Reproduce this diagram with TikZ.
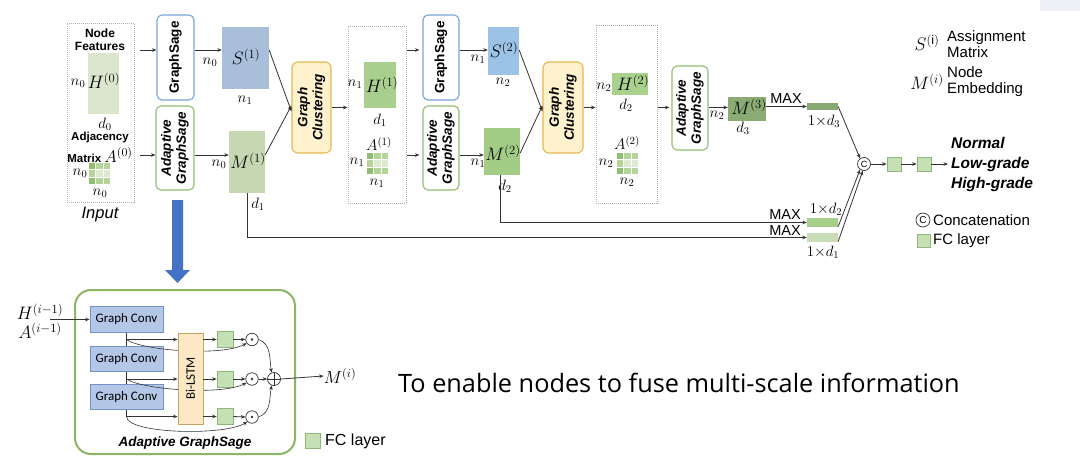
\RequirePackage{fix-cm}
\documentclass[tikz,border=0pt]{standalone}
\usepackage{fontspec}
\setmainfont{Liberation Sans}
\newfontfamily\osans{Open Sans}
\newfontfamily\carl{Carlito}
\usetikzlibrary{arrows.meta,calc}
\definecolor{gsblue}{HTML}{78A5D8}
\definecolor{agsgreen}{HTML}{8FBF73}
\definecolor{sfillA}{HTML}{A8BEDA}
\definecolor{sfillB}{HTML}{9CC2E5}
\definecolor{hzfill}{HTML}{DCE6CD}
\definecolor{mofill}{HTML}{C6D8B1}
\definecolor{hofill}{HTML}{A9CF8E}
\definecolor{mtfill}{HTML}{A3CD87}
\definecolor{htfill}{HTML}{A9D18E}
\definecolor{mthfill}{HTML}{8AAB74}
\definecolor{gcfill}{HTML}{FFF2CC}
\definecolor{gcborder}{HTML}{E3B84F}
\definecolor{barC}{HTML}{87A873}
\definecolor{barB}{HTML}{A5CF8B}
\definecolor{barA}{HTML}{C8DDB8}
\definecolor{convfill}{HTML}{B4C7E7}
\definecolor{convborder}{HTML}{7393C4}
\definecolor{lstmfill}{HTML}{FCE8C4}
\definecolor{lstmborder}{HTML}{C8A366}
\definecolor{fcfill}{HTML}{C5E0B4}
\definecolor{fcborder}{HTML}{8FB97A}
\definecolor{outgreen}{HTML}{8CB564}
\definecolor{bigblue}{HTML}{4472C4}
\definecolor{lncol}{HTML}{333333}
\definecolor{mD}{HTML}{8FBF6F}
\definecolor{mM}{HTML}{B3D59A}
\definecolor{mL}{HTML}{DCEBD0}
\definecolor{faint}{HTML}{EEF0F8}
\newcommand\adjgrid[2]{%
  \foreach \i/\j/\c in {0/0/mD,1/0/mM,2/0/mM,0/1/mM,1/1/mL,2/1/mL,0/2/mD,1/2/mM,2/2/mM}{
    \filldraw[fill=\c, draw=white, line width=0.6pt] ({#1+\i*7.5},{#2+\j*7.5}) rectangle ++(7.5,7.5);}%
}
\tikzset{
  ml/.style={inner sep=0, font=\fontsize{15}{15}\selectfont},
  mb/.style={inner sep=0, font=\fontsize{18}{18}\selectfont},
  tl/.style={inner sep=0, font=\fontsize{12}{13}\selectfont\bfseries, align=center},
  rbox/.style={draw, rounded corners=5pt, line width=1.1pt, fill=white, inner sep=0},
  gsbox/.style={rbox, draw=gsblue},
  agsbox/.style={rbox, draw=agsgreen},
  gcbox/.style={draw=gcborder, fill=gcfill, rounded corners=6pt, line width=1.1pt, inner sep=0},
  dotbox/.style={draw=gray!60, densely dotted, line width=1pt, inner sep=0},
  vtxt/.style={rotate=90, font=\fontsize{13.5}{15}\selectfont\bfseries\itshape, align=center, inner sep=0},
  vtxtup/.style={rotate=90, font=\fontsize{13.5}{15}\selectfont\bfseries, align=center, inner sep=0},
  mat/.style={inner sep=0, draw=none},
  ln/.style={draw=lncol, line width=0.8pt},
  arr/.style={ln, -{Stealth[length=4.5pt,width=3.6pt]}},
  conv/.style={draw=convborder, fill=convfill, line width=0.8pt, minimum width=73, minimum height=25.5, inner sep=0, font=\carl\fontsize{13}{13}\selectfont},
  fcsq/.style={draw=fcborder, fill=fcfill, line width=0.7pt, minimum size=15, inner sep=0},
  smallc/.style={circle, draw=lncol, line width=0.7pt, minimum size=12.5, inner sep=0},
  lg/.style={inner sep=0, font=\fontsize{15}{18}\selectfont, anchor=west, align=left},
  cls/.style={inner sep=0, font=\fontsize{15.5}{16}\selectfont\bfseries\itshape, anchor=west},
}
\begin{document}
\begin{tikzpicture}[x=1pt,y=-1pt]
\useasboundingbox (0,0) rectangle (1080,469);
\fill[white] (0,0) rectangle (1080,469);
\fill[faint] (1040,0) rectangle (1080,11);

% ---------- Input box ----------
\node[dotbox, minimum width=67, minimum height=179] (inbox) at (100.5,112.5) {};
\node[tl] (nf) at (100,40) {Node\\Features};
\node[mat, fill=hzfill, minimum width=31, minimum height=61] (H0) at (103.5,83.5) {};
\node[mb] (H0t) at (104,81) {$H^{(0)}$};
\node[ml] (H0n) at (78,83) {$n_0$};
\node[ml] (H0d) at (105,124) {$d_0$};
\node[tl, font=\fontsize{11.5}{12}\selectfont\bfseries] (adj) at (100,138) {Adjacency};
\node[tl, font=\fontsize{11.5}{12}\selectfont\bfseries] (matx) at (100,155) {Matrix \normalfont\fontsize{17}{17}\selectfont$A^{(0)}$};
\adjgrid{88}{162}
\node[ml] (A0n) at (80,173) {$n_0$};
\node[ml] (A0m) at (100,193) {$n_0$};
\node[inner sep=0, font=\fontsize{16.5}{17}\selectfont\itshape] (inlbl) at (100,215) {Input};
\coordinate (nfout) at (140,50);
\coordinate (amout) at (140,155);

% ---------- Stage 1 ----------
\node[gsbox, minimum width=37, minimum height=85] (GS1) at (175.5,57.5) {};
\node[vtxtup] at (GS1.center) {GraphSage};
\node[agsbox, minimum width=38, minimum height=84] (AGS1) at (175,148) {};
\node[vtxt] at (AGS1.center) {Adaptive\\GraphSage};
\node[mat, fill=sfillA, minimum width=47, minimum height=62] (S1) at (245.5,58) {};
\node[mb] at (246,57) {$S^{(1)}$};
\node[ml] (S1n) at (210,62) {$n_0$};
\node[ml] (S1m) at (245,100) {$n_1$};
\node[mat, fill=mofill, minimum width=36, minimum height=62] (M1) at (247,162) {};
\node[mb] at (248,161) {$M^{(1)}$};
\node[ml] (M1n) at (219,164) {$n_0$};
\node[ml] (M1d) at (258,204) {$d_1$};
\draw[arr] (nfout) -- (nfout -| GS1.west);
\draw[arr] (amout) -- (amout -| AGS1.west);
\draw[arr] (GS1.east |- nfout) -- (S1.west |- nfout);
\draw[arr] (AGS1.east |- amout) -- (M1.west |- amout);

\node[gcbox, minimum width=39, minimum height=91] (GC1) at (311.5,107.5) {};
\node[vtxt] at (GC1.center) {Graph\\Clustering};
\draw[arr] (S1.east |- nfout) -- ([yshift=-4]GC1.west);
\draw[arr] (M1.east |- amout) -- ([yshift=2]GC1.west);

% ---------- Stage 2 ----------
\node[dotbox, minimum width=58, minimum height=177] (box2) at (377,114.5) {};
\draw[arr] (GC1.east) -- (GC1.east -| box2.west);
\node[mat, fill=hofill, minimum width=32, minimum height=46] (H1) at (380,85) {};
\node[mb] at (382,85) {$H^{(1)}$};
\node[ml] (H1n) at (355,84) {$n_1$};
\node[ml] (H1d) at (380,120) {$d_1$};
\node[mb, font=\fontsize{15.5}{15.5}\selectfont] (A1t) at (379,144) {$A^{(1)}$};
\adjgrid{366}{152}
\node[ml] (A1n) at (357,162) {$n_1$};
\node[ml] (A1m) at (377,183) {$n_1$};

\node[gsbox, minimum width=36, minimum height=85] (GS2) at (441,57.5) {};
\node[vtxtup] at (GS2.center) {GraphSage};
\node[agsbox, minimum width=36, minimum height=84] (AGS2) at (441,148) {};
\node[vtxt] at (AGS2.center) {Adaptive\\GraphSage};
\draw[arr] (box2.east |- nfout) -- ([xshift=-3]GS2.west |- nfout);
\draw[arr] (box2.east |- amout) -- ([xshift=-3]AGS2.west |- amout);
\node[mat, fill=sfillB, minimum width=31, minimum height=48] (S2) at (503.5,51) {};
\node[mb] at (504,50) {$S^{(2)}$};
\node[ml] (S2n) at (478,59) {$n_1$};
\node[ml] (S2m) at (503,82) {$n_2$};
\node[mat, fill=mtfill, minimum width=36, minimum height=47] (M2) at (502,151.5) {};
\node[mb] at (503,153) {$M^{(2)}$};
\node[ml] (M2n) at (478,163) {$n_1$};
\node[ml] (M2d) at (505,186) {$d_2$};
\draw[arr] (GS2.east |- nfout) -- (S2.west |- nfout);
\draw[arr] (AGS2.east |- amout) -- (M2.west |- amout);

\node[gcbox, minimum width=40, minimum height=91] (GC2) at (563,107.5) {};
\node[vtxt] at (GC2.center) {Graph\\Clustering};
\draw[arr] (S2.east |- nfout) -- ([yshift=-4]GC2.west);
\draw[arr] ([yshift=-1.5]M2.east) -- ([yshift=2]GC2.west);

% ---------- Stage 3 ----------
\node[dotbox, minimum width=61, minimum height=178] (box3) at (626.5,114) {};
\draw[arr] (GC2.east) -- (GC2.east -| box3.west);
\node[mat, fill=htfill, minimum width=36, minimum height=22] (H2) at (630,84) {};
\node[mb] at (633,83) {$H^{(2)}$};
\node[ml] (H2n) at (604,87) {$n_2$};
\node[ml] (H2d) at (626,105) {$d_2$};
\node[mb, font=\fontsize{15.5}{15.5}\selectfont] (A2t) at (627,143) {$A^{(2)}$};
\adjgrid{616}{152}
\node[ml] (A2n) at (606,163) {$n_2$};
\node[ml] (A2m) at (627,182) {$n_2$};

\node[agsbox, minimum width=36, minimum height=84] (AGS3) at (690,108) {};
\node[vtxt] at (AGS3.center) {Adaptive\\GraphSage};
\draw[arr] (box3.east |- GC2.east) -- ([xshift=-2]AGS3.west |- GC2.east);
\node[mat, fill=mthfill, minimum width=38, minimum height=24] (M3) at (747,109) {};
\node[mb] at (749,107) {$M^{(3)}$};
\node[ml] (M3d) at (743,128) {$d_3$};
\draw[arr] (AGS3.east |- GC2.east) -- (M3.west |- GC2.east);
\node[ml] (M3n) at (717,115) {$n_2$};

% ---------- pooling bars ----------
\node[mat, fill=barC, minimum width=31, minimum height=7] (B3) at (822.5,106.5) {};
\node[mat, fill=barB, minimum width=31, minimum height=9] (B2) at (822.5,222.5) {};
\node[mat, fill=barA, minimum width=31, minimum height=9] (B1) at (822.5,237.5) {};
\node[ml] (B3l) at (824,121) {$1{\times}d_3$};
\node[ml] (B2l) at (826,209) {$1{\times}d_2$};
\node[ml] (B1l) at (823,252) {$1{\times}d_1$};
\node[inner sep=0, font=\fontsize{14.5}{15}\selectfont] (max3) at (786,99) {MAX};
\node[inner sep=0, font=\fontsize{14.5}{15}\selectfont] (max2) at (785,215) {MAX};
\node[inner sep=0, font=\fontsize{14.5}{15}\selectfont] (max1) at (785,231) {MAX};
\draw[arr] (M3.east |- B3.west) -- (B3.west);
\draw[arr] ([xshift=-2]M2.south) -- ([xshift=-2]M2.south |- B2.west) -- (B2.west);
\draw[arr] (M1.south) -- (M1.south |- B1.west) -- (B1.west);

% ---------- concatenation and output ----------
\node[smallc, minimum size=13, font=\fontsize{9}{9}\selectfont] (cc) at (864,164) {C};
\draw[arr] (B3.east) -- (cc.125);
\draw[arr] ([yshift=-4]B2.east) -- (cc.235);
\draw[arr] ([yshift=-4]B1.east) -- (cc.260);
\node[fcsq, minimum size=14] (F1) at (894,164) {};
\node[fcsq, minimum size=14] (F2) at (924,164) {};
\coordinate (clsin) at (948,164);
\draw[arr] (cc.east) -- (F1.west);
\draw[arr] (F1.east) -- (F2.west);
\draw[arr] (F2.east) -- (clsin);
\node[cls] (c1) at (951,143) {Normal};
\node[cls] (c2) at (951,164) {Low-grade};
\node[cls] (c3) at (951,184) {High-grade};

% ---------- legend ----------
\node[mb] (lgS) at (927,43) {$S^{(\mathrm{i})}$};
\node[lg] (lgSt) at (947,44.5) {Assignment\\[-2pt]Matrix};
\node[mb] (lgM) at (927,82) {$M^{(i)}$};
\node[lg] (lgMt) at (947,82) {Node\\[-2pt]Embedding};
\node[smallc, minimum size=14, font=\fontsize{10}{10}\selectfont] (lgc) at (923,220) {C};
\node[lg] (lgct) at (933,220) {Concatenation};
\node[fcsq, minimum size=13] (lgf) at (923.5,241) {};
\node[lg] (lgft) at (933,241) {FC layer};

% ---------- big arrow ----------
\fill[bigblue] (172,200) -- (183,200) -- (183,270) -- (190,270) -- (177.5,283) -- (165,270) -- (172,270) -- cycle;

% ---------- Adaptive GraphSage detail ----------
\node[draw=outgreen, fill=white, line width=2pt, rounded corners=16pt, minimum width=220, minimum height=164, inner sep=0] (outer) at (185,372) {};
\node[conv] (g1) at (126.5,319.5) {Graph Conv};
\node[conv] (g2) at (126.5,359) {Graph Conv};
\node[conv] (g3) at (126.5,397) {Graph Conv};
\node[inner sep=0, font=\fontsize{18}{18}\selectfont] (hin) at (40,312) {$H^{(i-1)}$};
\node[inner sep=0, font=\fontsize{18}{18}\selectfont] (ain) at (40,331) {$A^{(i-1)}$};
\coordinate (hain) at (50,319.5);
\draw[arr] (hain) -- (g1.west);

\node[fcsq, minimum size=16] (f1) at (225,339.5) {};
\node[fcsq, minimum size=16] (f2) at (225,379) {};
\node[fcsq, minimum size=16] (f3) at (225,416.5) {};
\node[smallc] (o1) at (252,339.5) {};
\node[smallc] (o2) at (252,379) {};
\node[smallc] (o3) at (252,417) {};
\foreach \o in {o1,o2,o3} \fill[lncol] (\o) circle (1.3);
\node[smallc, minimum size=13] (op) at (274,379) {};
\draw[lncol, line width=0.7pt] (op.north) -- (op.south) (op.west) -- (op.east);

\coordinate (j1) at (g1.south |- f1);
\coordinate (j2) at (g2.south |- f2);
\coordinate (j3) at (g3.south |- f3);
\draw[ln] (g1.south) -- (g2.north);
\draw[ln] (g2.south) -- (g3.north);
\draw[ln] (g3.south) -- (j3);
% skip curves (behind Bi-LSTM)
\draw[arr, line width=0.6pt] (j1) .. controls (140,350) and (220,357) .. (o1.215);
\draw[arr, line width=0.6pt] (j2) .. controls (140,389) and (220,396) .. (o2.215);
\draw[arr, line width=0.6pt] (j3) .. controls (127,434) and (225,436) .. (o3.225);

\node[draw=lstmborder, fill=lstmfill, line width=0.8pt, minimum width=25, minimum height=91, inner sep=0] (lstm) at (190.5,378.5) {};
\node[rotate=90, inner sep=0, font=\carl\fontsize{13}{13}\selectfont] at (lstm.center) {Bi-LSTM};

\draw[arr] (j1) -- (lstm.west |- f1);
\draw[arr] (j2) -- (lstm.west |- f2);
\draw[arr] (j3) -- (lstm.west |- f3);
\draw[arr] (lstm.east |- f1) -- (f1.west);
\draw[arr] (lstm.east |- f2) -- (f2.west);
\draw[arr] (lstm.east |- f3) -- (f3.west);
\draw[arr] (f1.east) -- (o1.west);
\draw[arr] (f2.east) -- (o2.west);
\draw[arr] (f3.east) -- (o3.west);
\draw[arr, line width=0.6pt] (o1.east) to[out=-20, in=100] (op.110);
\draw[arr, line width=0.6pt] (o2.east) -- (op.west);
\draw[arr, line width=0.6pt] (o3.east) to[out=20, in=-100] (op.250);
\node[inner sep=0, font=\fontsize{17.5}{17.5}\selectfont] (mout) at (340,376) {$M^{(i)}$};
\draw[arr] (op.east) -- (mout.west);

\node[inner sep=0, font=\fontsize{13.5}{14}\selectfont\bfseries\itshape] (agl) at (185,443) {Adaptive GraphSage};
\node[fcsq] (lgf2) at (312.5,440.5) {};
\node[inner sep=0, anchor=west, font=\fontsize{16}{16}\selectfont] (lgf2t) at (325,441) {FC layer};

\node[inner sep=0, anchor=west, font=\osans\fontsize{25.3}{25.3}\selectfont] (msg) at (398,383) {To enable nodes to fuse multi-scale information};
\end{tikzpicture}
\end{document}
